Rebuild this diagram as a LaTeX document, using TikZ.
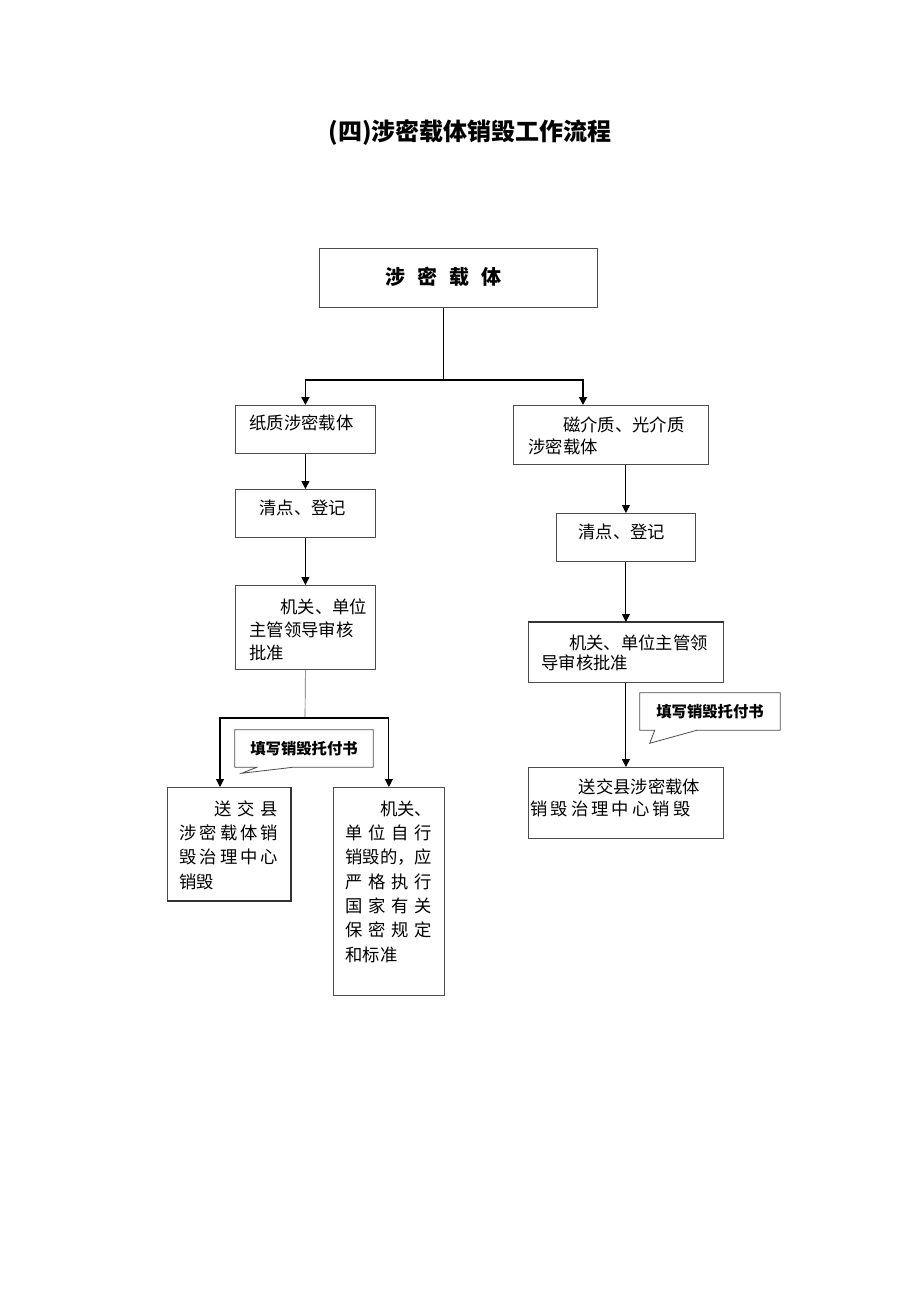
\documentclass[tikz,border=0pt]{standalone}
\usepackage{fontspec}
\setmainfont{Noto Sans CJK SC}
\usetikzlibrary{arrows.meta,calc}
\newcommand{\jl}[2][\linewidth]{\makebox[#1][s]{\spaceskip=0pt plus 1fil\relax #2}}

\begin{document}
\begin{tikzpicture}[x=0.75pt,y=-0.75pt,
  box/.style={rectangle, draw=black!70, line width=0.6pt, anchor=north west, align=left, inner ysep=0pt, font=\fontsize{13}{17}\selectfont},
  note/.style={rectangle, inner sep=0pt, font=\fontsize{11.5}{14}\selectfont\bfseries},
  notebox/.style={draw=black!70, line width=0.6pt},
  tip/.style={-{Triangle[length=6pt,width=6pt]}},
  arrowline/.style={draw=black, line width=0.8pt, tip},
  trunk/.style={draw=black, line width=1.3pt, tip}]
\useasboundingbox (0,0) rectangle (920,1302);

\node[font=\fontsize{18}{22}\selectfont\bfseries] (title) at (470,133) {(四)涉密载体销毁工作流程};

\node[box, text width=109.5pt, inner xsep=49.5pt, text height=26.7pt, text depth=17.55pt, font=\fontsize{15}{18}\selectfont\bfseries] (top) at (319,248) {涉\hspace{0.6em}密\hspace{0.6em}载\hspace{0.6em}体};

\node[box, text width=84pt, inner xsep=10.5pt, text height=18pt, text depth=18pt] (left1) at (235,405) {纸质涉密载体};
\node[box, text width=69pt, inner xsep=18pt, text height=18.75pt, text depth=17.25pt] (left2) at (235,489) {清点、登记};
\node[box, text width=84pt, inner xsep=10.5pt, text height=21pt, text depth=42pt, font=\fontsize{13}{17.25}\selectfont] (left3) at (235,585) {\hspace*{1.8em}机关、单位\\主管领导审核\\批准};
\node[box, text width=74pt, inner xsep=9.1pt, text height=21pt, text depth=63.75pt, font=\fontsize{13}{18.2}\selectfont] (left4) at (167,787) {\jl{\hspace*{2em}送 交 县}\\\jl{涉 密 载 体 销}\\\jl{毁 治 理 中 心}\\销毁};
\node[box, text width=65pt, inner xsep=9.1pt, text height=21pt, text depth=135pt, font=\fontsize{13}{18.2}\selectfont] (left5) at (333,787) {\hspace*{2em}机关、\\\jl{单 位 自 行}\\销毁的，应\\\jl{严 格 执 行}\\\jl{国 家 有 关}\\\jl{保 密 规 定}\\和标准};

\node[box, text width=123.75pt, inner xsep=11.25pt, text height=19.5pt, text depth=24.75pt, font=\fontsize{13}{16.5}\selectfont] (right1) at (513,405) {\hspace*{2em}磁介质、光介质\\涉密载体};
\node[box, text width=71.25pt, inner xsep=16.5pt, text height=18.75pt, text depth=17.25pt] (right2) at (556,513) {清点、登记};
\node[box, text width=126.75pt, inner xsep=9.75pt, text height=20.25pt, text depth=24.75pt, font=\fontsize{13}{15}\selectfont] (right3) at (528,622) {\hspace*{1.6em}机关、单位主管领\\导审核批准};
\node[box, text width=143.25pt, inner xsep=1.5pt, text height=19.5pt, text depth=33.75pt, font=\fontsize{13}{16.5}\selectfont] (right4) at (528,767) {\hspace*{2.8em}送交县涉密载体\\\jl[120pt]{销 毁 治 理 中 心 销 毁}};

% heavier edges
\draw[black!80, line width=1.4pt] (left4.north east) -- (left4.south east) -- (left4.south west);
\draw[black!80, line width=1.4pt] (right3.north west) -- (right3.north east);

% callouts
\node[note, minimum width=103.5pt, minimum height=27.75pt] (noteL) at (304,748.5) {填写销毁托付书};
\draw[notebox] (noteL.north west) -- (noteL.north east) -- (noteL.south east) -- ($(noteL.south west)+(58,0)$) -- ($(noteL.south west)+(7,6)$) -- ($(noteL.south west)+(22,0)$) -- (noteL.south west) -- cycle;
\node[note, minimum width=105pt, minimum height=27.75pt] (noteR) at (710,711.5) {填写销毁托付书};
\draw[notebox] (noteR.north west) -- (noteR.north east) -- (noteR.south east) -- ($(noteR.south west)+(57,0)$) -- ($(noteR.south west)+(10,13)$) -- ($(noteR.south west)+(15,0)$) -- (noteR.south west) -- cycle;

% connectors
\coordinate (split) at (443,380);
\coordinate (r1in) at ($(right1.north west)+(70,0)$);
\draw[black, line width=0.6pt] (top.south -| split) -- (split);
\draw[trunk] (split) -| (left1.north);
\draw[trunk] (split) -| (r1in);

\draw[arrowline] (left1.south) -- (left2.north);
\draw[arrowline] (left2.south) -- (left3.north);
\coordinate (splitL) at (305,718);
\coordinate (l4in) at ($(left4.north west)+(53,0)$);
\draw[black!60, line width=0.5pt] (left3.south) -- (splitL);
\draw[arrowline] (splitL) -| (l4in);
\draw[arrowline] (splitL) -| (left5.north);

\draw[arrowline] (right1.south -| right2.north) -- (right2.north);
\draw[arrowline] (right2.south) -- (right3.north);
\draw[arrowline] (right3.south) -- (right4.north);
\end{tikzpicture}
\end{document}
